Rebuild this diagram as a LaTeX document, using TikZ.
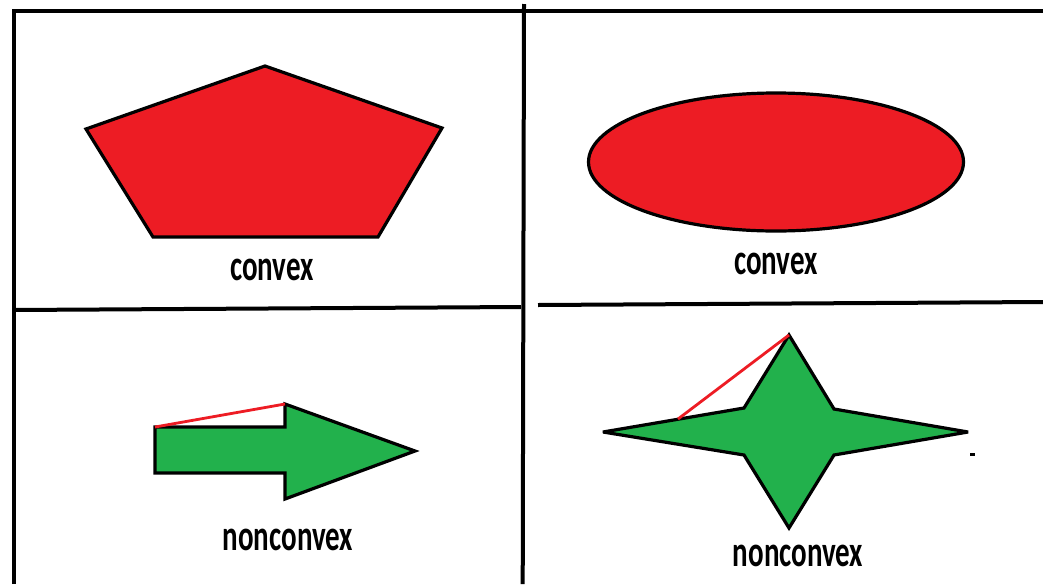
\documentclass[tikz,border=0pt]{standalone}
\usepackage{fontspec}
\setmainfont{Carlito}
\definecolor{paintred}{HTML}{ED1C24}
\definecolor{paintgreen}{HTML}{22B14C}
\begin{document}
\begin{tikzpicture}[x=1pt,y=-1pt,
  frame/.style={line width=4pt,black},
  shapeline/.style={line width=3.2pt,black,line join=miter,miter limit=4},
  chord/.style={line width=2.8pt,paintred},
  lbl/.style={font=\bfseries\fontsize{29}{29}\selectfont,inner sep=0pt}]
\useasboundingbox (0,0) rectangle (1043,584);
% frame
\draw[frame] (13.5,584) -- (13.5,10.5) -- (1043,10.5);
\draw[frame] (524,4) -- (522.7,584);
\draw[frame] (13.5,310) -- (521,307);
\draw[frame] (538,305) -- (1043,302);
% pentagon
\draw[shapeline,fill=paintred] (265,66) -- (442,128) -- (378,237) -- (153,237) -- (86,129) -- cycle;
\node[lbl] (t1) at (272,270) {\scalebox{1}[1.5]{convex}};
% ellipse
\draw[shapeline,fill=paintred] (776,162) ellipse [x radius=187.5,y radius=69];
\node[lbl] (t2) at (776,264) {\scalebox{1}[1.5]{convex}};
% arrow
\draw[shapeline,fill=paintgreen] (155,427) -- (285,427) -- (285,404) -- (415,451) -- (285,499) -- (285,473) -- (155,473) -- cycle;
\coordinate (a1) at (155,427);
\coordinate (a2) at (285,404);
\draw[chord] (a1) -- (a2);
\node[lbl] (t3) at (288,540) {\scalebox{1}[1.5]{nonconvex}};
% star
\draw[shapeline,fill=paintgreen] (789,335) -- (834,409) -- (968,432) -- (834,455) -- (789,528) -- (744,455) -- (603,432) -- (744,408) -- cycle;
\coordinate (s1) at (789,335);
\coordinate (s2) at (678,419);
\draw[chord] (s1) -- (s2);
\fill[black] (970,452.5) rectangle (975,456);
\node[lbl] (t4) at (798,556) {\scalebox{1}[1.5]{nonconvex}};
\end{tikzpicture}
\end{document}
